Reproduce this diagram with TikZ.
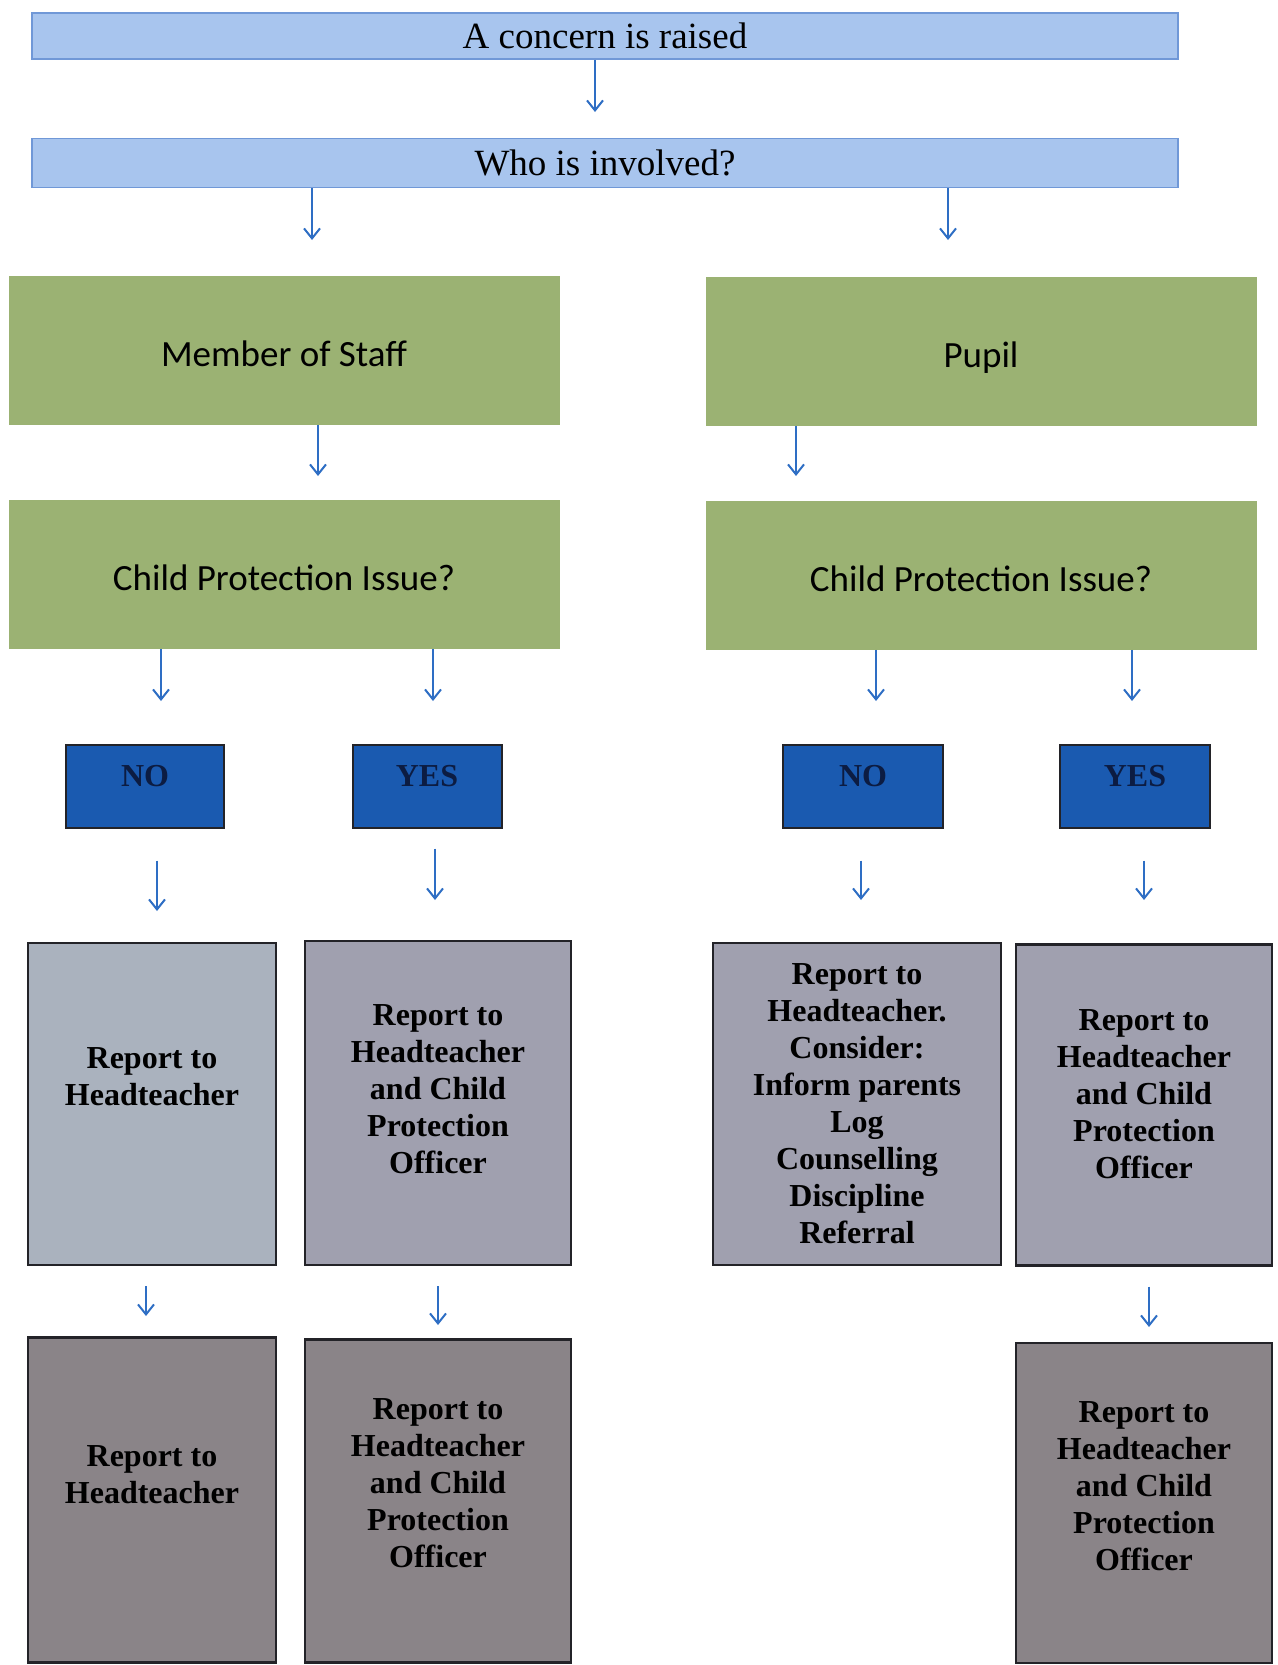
\documentclass[tikz,border=0pt]{standalone}
\usepackage{fontspec}
\setmainfont{Liberation Serif}
\newfontfamily\calibri{Carlito}
\usepackage{xcolor}
\definecolor{topblue}{RGB}{168,197,238}
\definecolor{topedge}{RGB}{112,152,215}
\definecolor{leaf}{RGB}{155,178,115}
\definecolor{yesno}{RGB}{26,90,176}
\definecolor{navy}{RGB}{12,28,66}
\definecolor{slate}{RGB}{170,178,190}
\definecolor{lilac}{RGB}{160,160,175}
\definecolor{ash}{RGB}{138,132,136}
\definecolor{frame}{RGB}{35,35,40}
\definecolor{arrowblue}{RGB}{46,110,196}
\usepackage{tikz}
\usetikzlibrary{arrows.meta}

\begin{document}
\begin{tikzpicture}
[x=0.5pt, y=-0.5pt,
 >={Straight Barb[length=5pt,width=8pt]},
 every edge/.style={draw, ->, arrowblue, line width=1pt},
 bar/.style={rectangle, draw=topedge, fill=topblue, line width=0.8pt,
   minimum width=573pt, font=\fontsize{18.5}{22}\selectfont},
 field/.style={rectangle, fill=leaf, minimum width=275.5pt, minimum height=74.5pt,
   text height=18pt, text depth=2pt, font=\calibri\fontsize{18.5}{22}\selectfont},
 answer/.style={rectangle, draw=frame, fill=yesno, line width=1pt, minimum height=41.5pt,
   text=navy, text depth=10pt, font=\fontsize{16}{19}\selectfont\bfseries},
 report/.style={rectangle, draw=frame, line width=1.2pt, align=center,
   font=\fontsize{16}{18.5}\selectfont\bfseries},
]

\useasboundingbox (0,0) rectangle (1278,1665);

\node[bar, minimum height=23pt]   (concern) at (605,36)  {A concern is raised};
\node[bar, minimum height=24.5pt] (who)     at (605,163) {Who is involved?};

\node[field] (staff) at (284,350) {Member of Staff};
\node[field] (pupil) at (981,351) {Pupil};
\node[field] (cpL)   at (284,574) {Child Protection Issue?};
\node[field] (cpR)   at (981,575) {Child Protection Issue?};

\node[answer, minimum width=79pt]   (noL)  at (145,786)  {NO};
\node[answer, minimum width=74.5pt] (yesL) at (427,786)  {YES};
\node[answer, minimum width=80pt]   (noR)  at (863,786)  {NO};
\node[answer, minimum width=75pt]   (yesR) at (1135,786) {YES};

\node[report, fill=slate, minimum width=124pt, minimum height=161pt, text depth=27pt]
  (repL) at (152,1104) {Report to\\Headteacher};
\node[report, fill=lilac, minimum width=133pt, minimum height=162pt, text depth=14pt]
  (hcpL) at (438,1103) {Report to\\Headteacher\\and Child\\Protection\\Officer};
\node[report, fill=lilac, minimum width=144pt, minimum height=161pt]
  (conR) at (857,1104) {Report to\\Headteacher.\\Consider:\\Inform parents\\Log\\Counselling\\Discipline\\Referral};
\node[report, fill=lilac, minimum width=128pt, minimum height=160.5pt, text depth=11pt]
  (hcpR) at (1144,1105) {Report to\\Headteacher\\and Child\\Protection\\Officer};

\node[report, fill=ash, minimum width=124pt, minimum height=162.5pt, text depth=25pt]
  (finL) at (152,1500) {Report to\\Headteacher};
\node[report, fill=ash, minimum width=133pt, minimum height=161.5pt, text depth=18pt]
  (finM) at (438,1501) {Report to\\Headteacher\\and Child\\Protection\\Officer};
\node[report, fill=ash, minimum width=128pt, minimum height=160pt, text depth=17pt]
  (finR) at (1144,1503) {Report to\\Headteacher\\and Child\\Protection\\Officer};

% arrow tips
\coordinate (t1)  at (595,112);
\coordinate (t2)  at (312,240);
\coordinate (t3)  at (948,240);
\coordinate (t4)  at (318,476);
\coordinate (t5)  at (796,476);
\coordinate (t6)  at (161,701);
\coordinate (t7)  at (433,701);
\coordinate (t8)  at (876,701);
\coordinate (t9)  at (1132,701);
\coordinate (t10) at (157,911);
\coordinate (t11) at (435,900);
\coordinate (t12) at (861,900);
\coordinate (t13) at (1144,900);
\coordinate (t14) at (146,1316);
\coordinate (t15) at (438,1325);
\coordinate (t16) at (1149,1327);

\draw
(concern.south -| t1)  edge (t1)
(who.south -| t2)      edge (t2)
(who.south -| t3)      edge (t3)
(staff.south -| t4)    edge (t4)
(pupil.south -| t5)    edge (t5)
(cpL.south -| t6)      edge (t6)
(cpL.south -| t7)      edge (t7)
(cpR.south -| t8)      edge (t8)
(cpR.south -| t9)      edge (t9)
(noL.south -| t10)     edge[shorten <=16pt] (t10)
(yesL.south -| t11)    edge[shorten <=10pt] (t11)
(noR.south -| t12)     edge[shorten <=16pt] (t12)
(yesR.south -| t13)    edge[shorten <=16pt] (t13)
(repL.south -| t14)    edge[shorten <=10pt] (t14)
(hcpL.south -| t15)    edge[shorten <=10pt] (t15)
(hcpR.south -| t16)    edge[shorten <=10pt] (t16);
\end{tikzpicture}
\end{document}
